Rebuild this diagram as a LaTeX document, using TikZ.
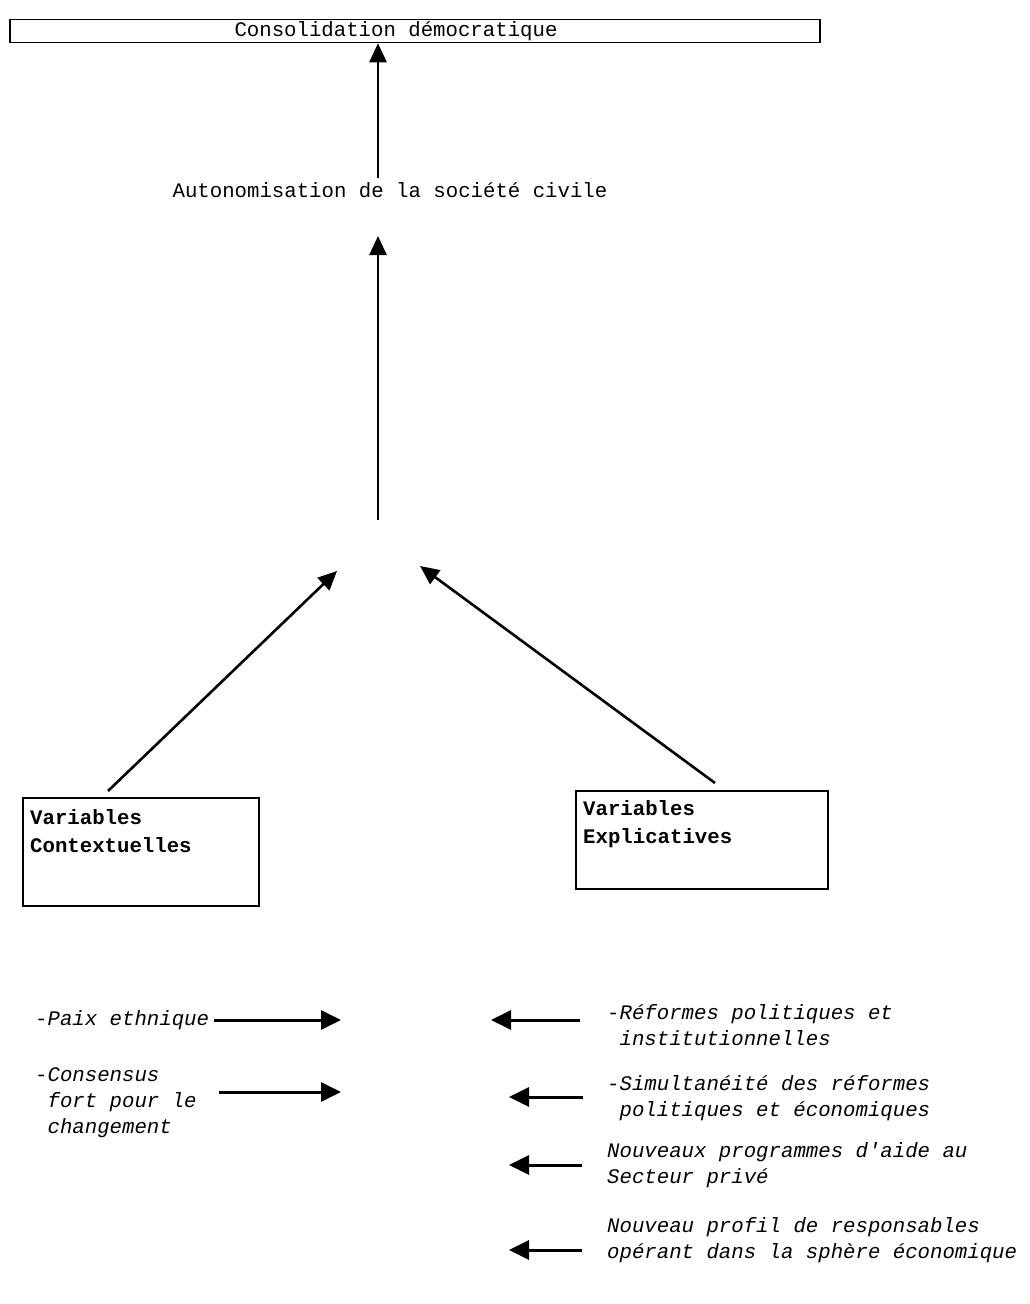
\documentclass[tikz,border=0pt]{standalone}
\usepackage{fontspec}
\setmonofont{Liberation Mono}
\usetikzlibrary{arrows.meta}
\begin{document}
\begin{tikzpicture}[x=1pt,y=-1pt,
  every node/.style={font=\ttfamily\fontsize{20.7}{26}\selectfont, inner sep=0pt},
  arr/.style={line width=2.6pt, -{Triangle[length=19pt,width=17pt]}},
  harr/.style={line width=3pt, -{Triangle[length=20pt,width=19pt]}},
  box/.style={draw, line width=1.5pt},
  lab/.style={anchor=west, align=left, font=\ttfamily\itshape\fontsize{20.7}{26}\selectfont},
  boxtxt/.style={anchor=north west, align=left, font=\ttfamily\bfseries\fontsize{20.7}{28}\selectfont}]
\useasboundingbox (0,0) rectangle (1029,1304);

% top
\node[box, minimum width=810pt, minimum height=23pt] (cons) at (415,31) {\hspace*{-38pt}Consolidation démocratique};
\node (auto) at (390,190) {Autonomisation de la société civile};
\coordinate (a1s) at (378,178);
\draw[arr] (a1s) -- (a1s |- cons.south);
\coordinate (a2s) at (378,520);
\coordinate (a2e) at (378,236);
\draw[arr] (a2s) -- (a2e);

% boxes
\node[box, anchor=north west, minimum width=236pt, minimum height=108pt] (ctx) at (22,797) {};
\node[boxtxt] (ctxt) at (30,809) {Variables\\Contextuelles};
\node[box, anchor=north west, minimum width=252pt, minimum height=98pt] (exp) at (575,790) {};
\node[boxtxt] (expt) at (583,800) {Variables\\Explicatives};

\coordinate (d1s) at (108,791);
\coordinate (d1e) at (337,571);
\draw[arr] (d1s) -- (d1e);
\coordinate (d2s) at (715,783);
\coordinate (d2e) at (420,566);
\draw[arr] (d2s) -- (d2e);

% left list
\node[lab] (paix) at (35,1020) {-Paix ethnique};
\coordinate (p1) at (341,1020);
\draw[harr] ([xshift=5pt]paix.east) -- (p1);
\node[lab] (cons2) at (35,1103) {-Consensus\\\hspace*{12.4pt}fort pour le\\\hspace*{12.4pt}changement};
\coordinate (c1s) at (219,1092);
\coordinate (c1) at (341,1092);
\draw[harr] (c1s) -- (c1);

% right list
\node[lab] (ref) at (607,1025) {-Réformes politiques et\\\hspace*{12.4pt}institutionnelles};
\coordinate (r1) at (491,1020);
\draw[harr] ([xshift=-27pt]ref.west |- r1) -- (r1);
\node[lab] (sim) at (607,1098) {-Simultanéité des réformes\\\hspace*{12.4pt}politiques et économiques};
\coordinate (s1) at (509,1097);
\draw[harr] ([xshift=-24pt]sim.west |- s1) -- (s1);
\node[lab] (prog) at (607,1165) {Nouveaux programmes d'aide au\\Secteur privé};
\coordinate (g1) at (509,1165);
\draw[harr] ([xshift=-25pt]prog.west |- g1) -- (g1);
\node[lab] (prof) at (607,1240) {Nouveau profil de responsables\\opérant dans la sphère économique};
\coordinate (f1) at (509,1250);
\draw[harr] ([xshift=-25pt]prof.west |- f1) -- (f1);
\end{tikzpicture}
\end{document}
